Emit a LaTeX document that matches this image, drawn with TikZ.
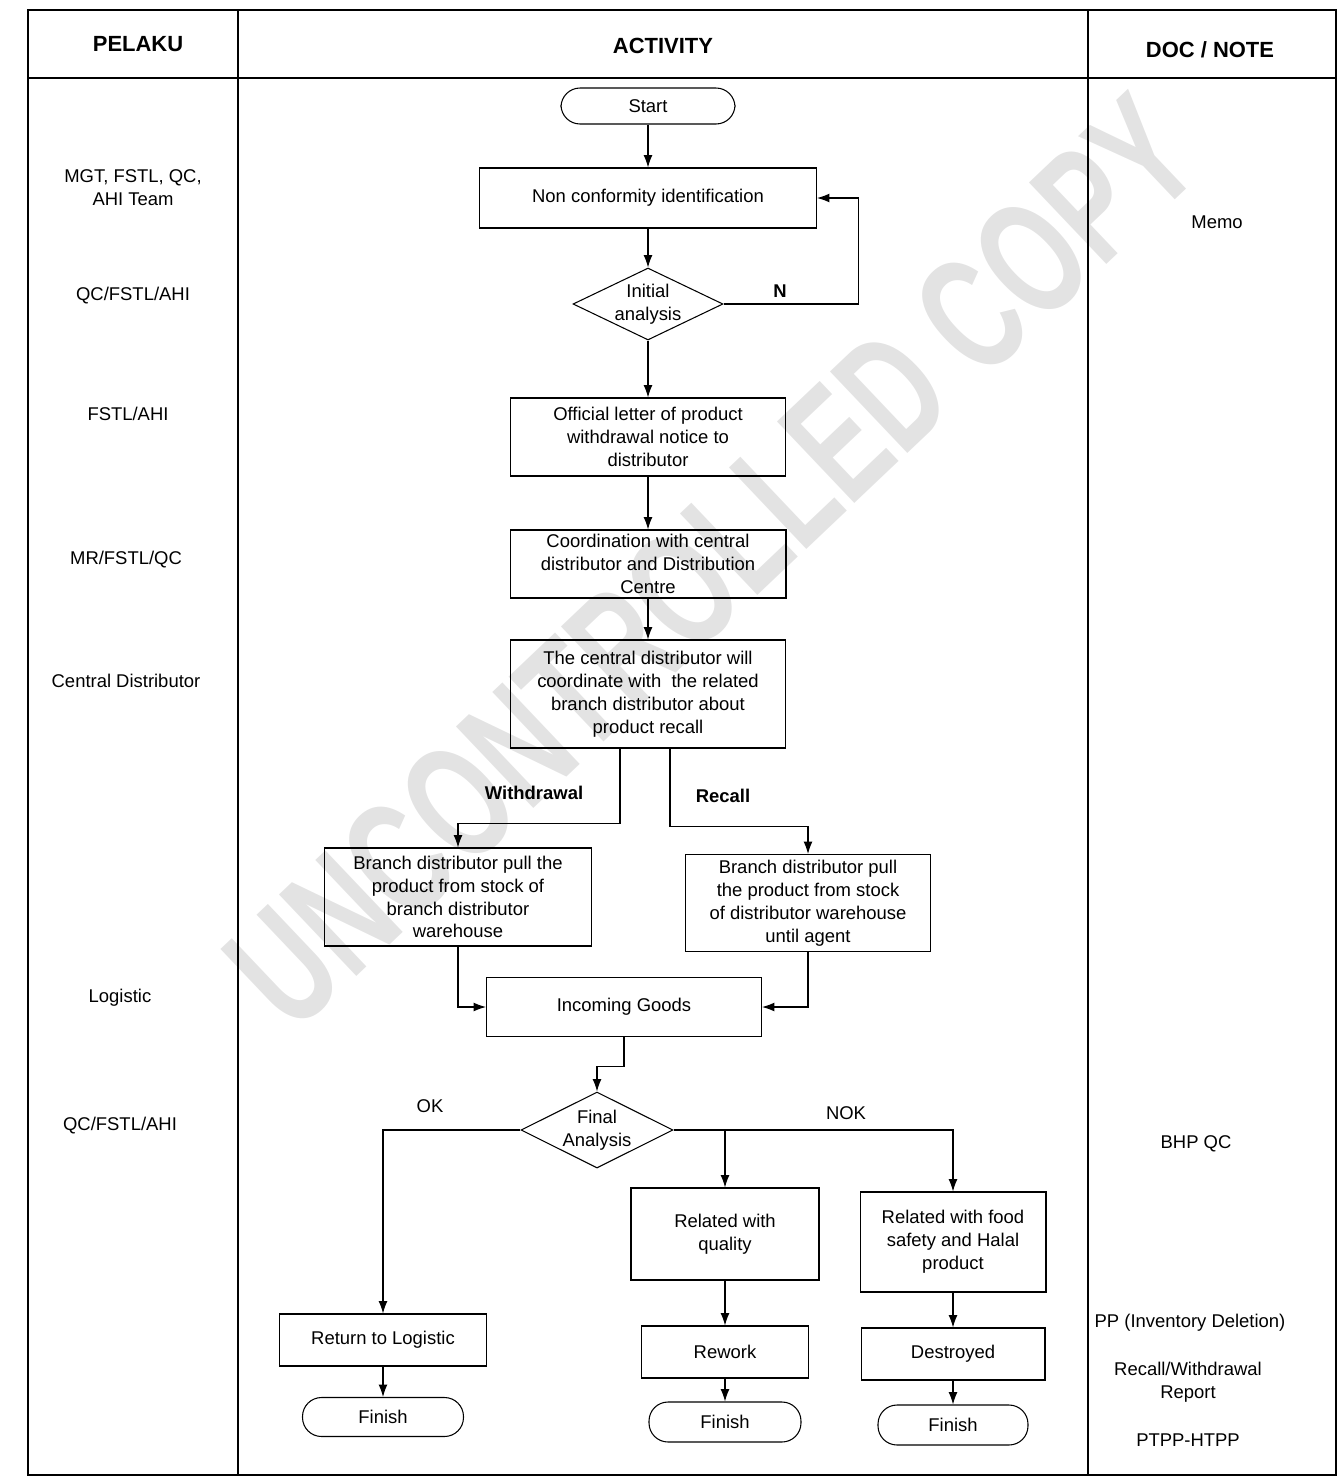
\documentclass[tikz,border=0pt]{standalone}
\usepackage{fontspec}
\setmainfont{Liberation Sans}
\usepackage{tikz}
\usetikzlibrary{arrows.meta}
\usetikzlibrary{shapes}

\begin{document}
\begin{tikzpicture}[x=0.02cm,y=-0.02cm]
\tikzstyle{every node}=[font=\fontsize{10.5}{13}\selectfont,align=center]
\tikzstyle{proc}=[rectangle,draw,line width=0.6pt,inner sep=1pt]
\tikzstyle{term}=[rectangle,rounded corners=0.38cm,draw,line width=0.6pt]
\tikzstyle{decide}=[diamond,draw,line width=0.6pt,inner sep=0pt]
\tikzstyle{flow}=[line width=0.6pt,-{Latex[length=7pt,width=5pt]}]
\tikzstyle{head}=[font=\fontsize{12.5}{15}\selectfont\bfseries]
\tikzstyle{branch}=[font=\fontsize{10.5}{13}\selectfont\bfseries]
\tikzstyle{stamp}=[transform shape,inner sep=0pt,text=gray!22,font=\fontsize{62}{62}\selectfont\bfseries]
\useasboundingbox (0,0) rectangle (1339,1484);
\begin{scope}[shift={(712,562)},rotate=43.5,yscale=1.5]
\foreach \ch/\px [count=\i] in {U/-590,N/-511,C/-432,O/-350,N/-267,T/-195,R/-122,O/-40,L/36,L/103,E/173,D/249,C/358,O/441,P/520,Y/593}
  \node[stamp] (wm\i) at (\px,0) {\ch};
\end{scope}
\draw[line width=1pt] (28,10) rectangle (1336,1475);
\draw[line width=1pt] (28,78) -- (1336,78);
\draw[line width=1pt] (238,10) -- (238,1475);
\draw[line width=1pt] (1088,10) -- (1088,1475);
\node[head] (hpelaku) at (138,44) {PELAKU};
\node[head] (hact) at (663,46) {ACTIVITY};
\node[head] (hdoc) at (1210,50) {DOC / NOTE};

\node (p1) at (133,188) {MGT, FSTL, QC,\\AHI Team};
\node (p2) at (133,296) {QC/FSTL/AHI};
\node (p3) at (128,414) {FSTL/AHI};
\node (p4) at (126,560) {MR/FSTL/QC};
\node (p5) at (126,681) {Central Distributor};
\node (p6) at (120,998) {Logistic};
\node (p7) at (120,1126) {QC/FSTL/AHI};

\node (d1) at (1217,222) {Memo};
\node (d2) at (1196,1144) {BHP QC};
\node (d3) at (1190,1323) {PP (Inventory Deletion)};
\node (d4) at (1188,1382) {Recall/Withdrawal\\Report};
\node (d5) at (1188,1440) {PTPP-HTPP};

\node[term,minimum width=3.48cm,minimum height=0.72cm] (start) at (648,106) {Start};
\node[proc,minimum width=6.74cm,minimum height=1.2cm] (noncon) at (648,198) {Non conformity identification};
\node[decide,minimum width=3cm,minimum height=1.44cm,label={center:Initial\\analysis}] (init) at (648,304) {};
\node[proc,minimum width=5.5cm,minimum height=1.56cm] (official) at (648,437) {Official letter of product\\withdrawal notice to\\distributor};
\node[proc,minimum width=5.52cm,minimum height=1.36cm] (coord) at (648,564) {Coordination with central\\distributor and Distribution\\Centre};
\node[proc,minimum width=5.5cm,minimum height=2.16cm] (central) at (648,694) {The central distributor will\\coordinate with \ the related\\branch distributor about\\product recall};
\node[proc,minimum width=5.34cm,minimum height=1.96cm] (branchl) at (458,897) {Branch distributor pull the\\product from stock of\\branch distributor\\warehouse};
\node[proc,minimum width=4.9cm,minimum height=1.94cm] (branchr) at (808,903) {Branch distributor pull\\the product from stock\\of distributor warehouse\\until agent};
\node[proc,minimum width=5.5cm,minimum height=1.18cm] (incoming) at (624,1007) {Incoming Goods};
\node[decide,minimum width=3.04cm,minimum height=1.52cm,label={center:Final\\Analysis}] (final) at (597,1130) {};
\node[proc,minimum width=3.76cm,minimum height=1.84cm] (quality) at (725,1234) {Related with\\quality};
\node[proc,minimum width=3.72cm,minimum height=2cm] (food) at (953,1242) {Related with food\\safety and Halal\\product};
\node[proc,minimum width=4.14cm,minimum height=1.04cm] (retlog) at (383,1340) {Return to Logistic};
\node[proc,minimum width=3.34cm,minimum height=1.04cm] (rework) at (725,1352) {Rework};
\node[proc,minimum width=3.68cm,minimum height=1.04cm] (destroyed) at (953,1354) {Destroyed};
\node[term,minimum width=3.22cm,minimum height=0.78cm] (finl) at (383,1417) {Finish};
\node[term,minimum width=3.04cm,minimum height=0.8cm] (finm) at (725,1422) {Finish};
\node[term,minimum width=3cm,minimum height=0.8cm] (finr) at (953,1425) {Finish};

\node[branch] (nlab) at (780,291) {N};
\node[branch] (wlab) at (534,793) {Withdrawal};
\node[branch] (rlab) at (723,796) {Recall};
\node (oklab) at (430,1106) {OK};
\node (noklab) at (846,1113) {NOK};

\draw[flow] (start) -- (noncon);
\draw[flow] (noncon) -- (init);
\draw[flow] (init.east) -- ++(135,0) |- (noncon.east);
\draw[flow] (init) -- (official);
\draw[flow] (official) -- (coord);
\draw[flow] (coord) -- (central);
\draw[flow] ([xshift=-0.56cm]central.south) -- ++(0,75) -| (branchl.north);
\draw[flow] ([xshift=0.44cm]central.south) -- ++(0,78) -| (branchr.north);
\draw[flow] (branchl.south) |- (incoming.west);
\draw[flow] (branchr.south) |- (incoming.east);
\draw[flow] (incoming.south) -- ++(0,29) -| (final.north);
\draw[flow] (final.west) -| (retlog.north);
\draw[flow] (final.east) -| (food.north);
\draw[flow] (final.east -| quality.north) -- (quality.north);
\draw[flow] (quality) -- (rework);
\draw[flow] (food) -- (destroyed);
\draw[flow] (retlog) -- (finl);
\draw[flow] (rework) -- (finm);
\draw[flow] (destroyed) -- (finr);
\end{tikzpicture}
\end{document}
